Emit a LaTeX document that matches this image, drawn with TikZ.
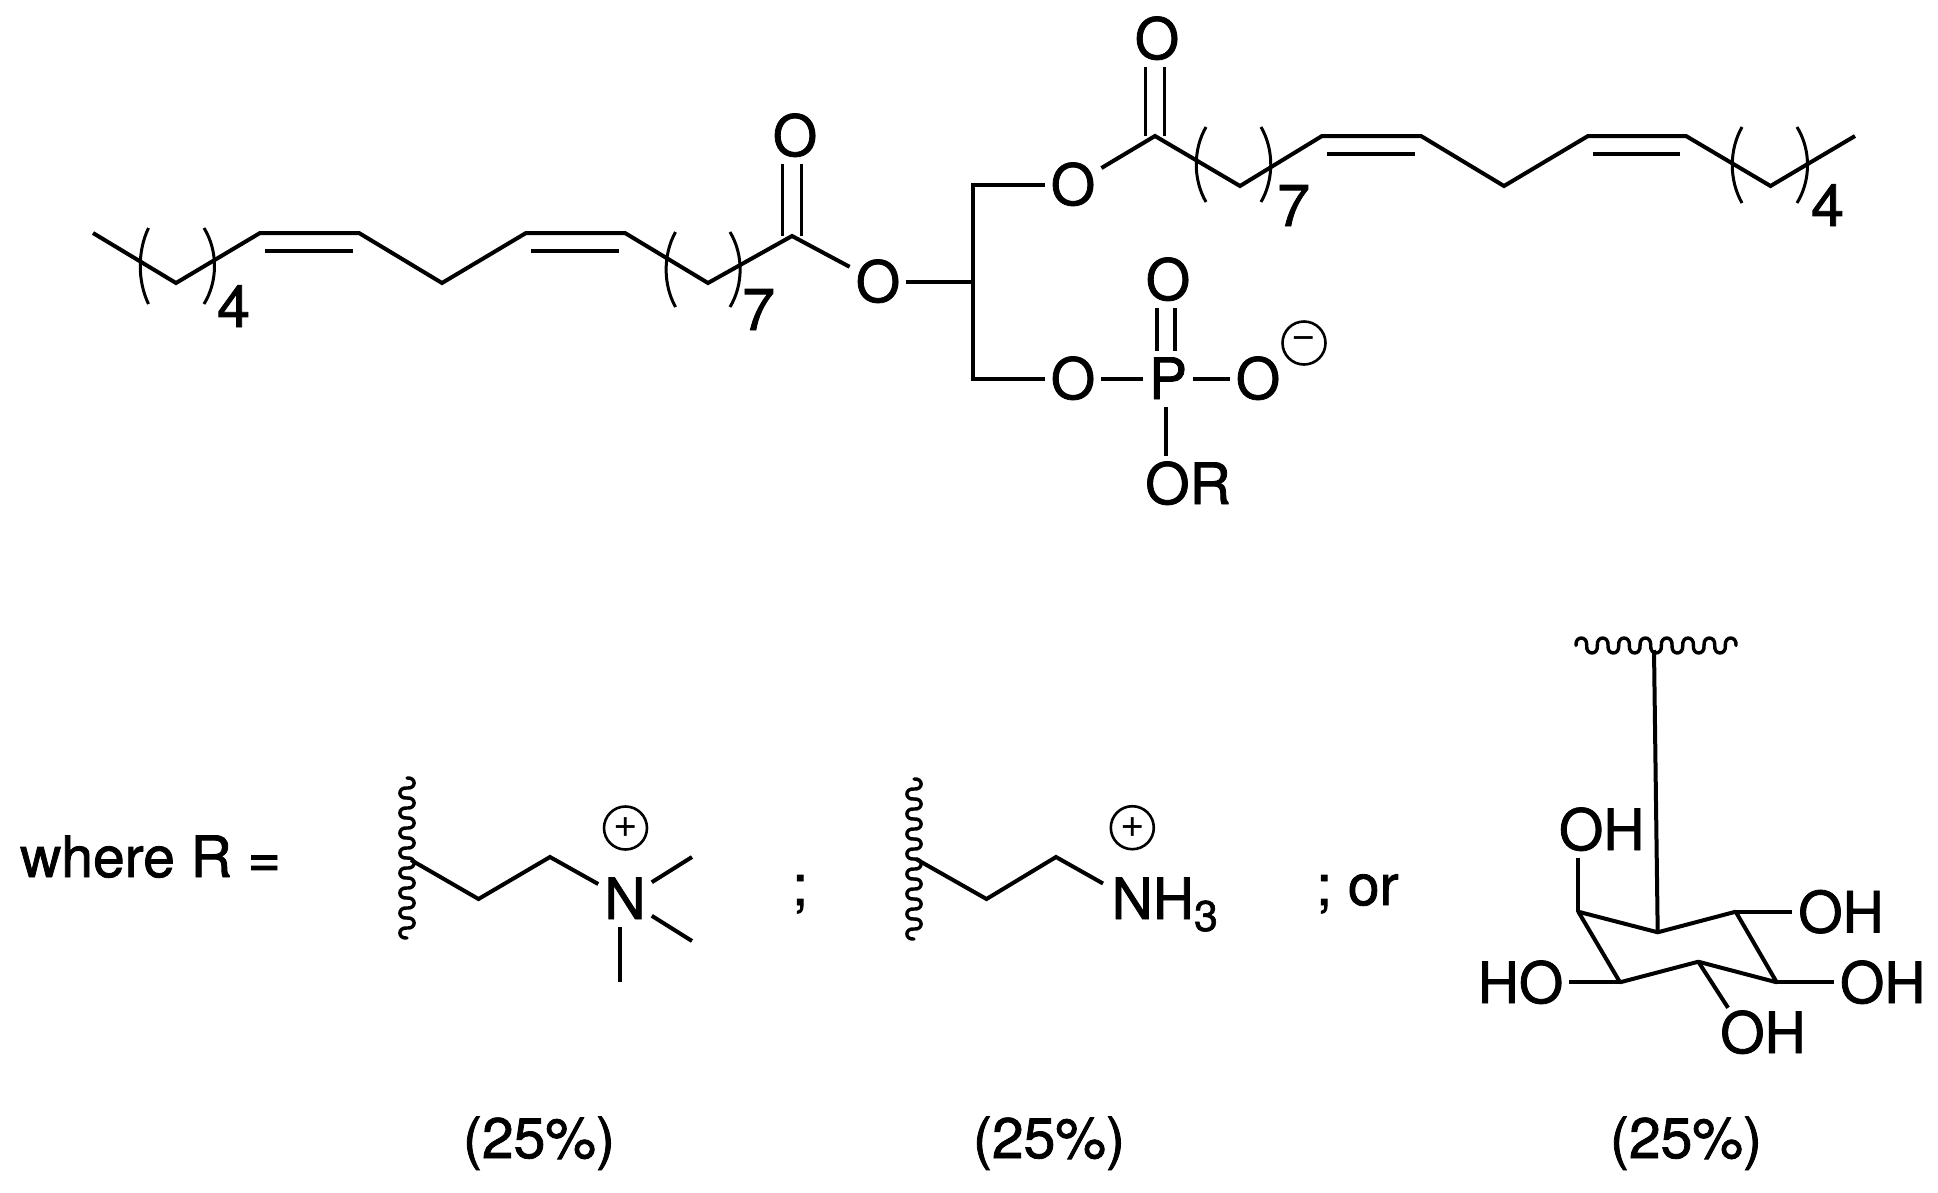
\documentclass[tikz,border=0pt]{standalone}
\usepackage{fontspec}
\setmainfont{TeX Gyre Heros}
\newfontfamily\chemf{TeX Gyre Heros}[FakeBold=1.4]
\newcommand\chembrk[4]{\draw[brk] (#1,#2) .. controls ({#1+#4},{#2+0.3*(#3-#2)}) and ({#1+#4},{#2+0.7*(#3-#2)}) .. (#1,#3);}
% vertical wavy line: x, top y
\newcommand\vwave[2]{\foreach \i in {0,2,...,14}{\draw[wavy] ({#1},{#2+10*\i}) .. controls ({#1+9.5},{#2+10*\i-1}) and ({#1+9.5},{#2+10*\i+11}) .. ({#1},{#2+10*\i+10}) .. controls ({#1-9.5},{#2+10*\i+9}) and ({#1-9.5},{#2+10*\i+21}) .. ({#1},{#2+10*\i+20});}}
\tikzset{
  bond/.style={line width=4pt,line join=miter,line cap=butt},
  brk/.style={line width=3pt},
  dbl/.style={line width=3.2pt},
  wavy/.style={line width=3.4pt,line join=round,line cap=round},
  lab/.style={font=\chemf\fontsize{57}{60}\selectfont,inner xsep=6pt,inner ysep=8pt,text height=40pt,text depth=0pt},
  txt/.style={font=\chemf\fontsize{57}{60}\selectfont,inner sep=0pt,anchor=base west},
  digit/.style={font=\chemf\fontsize{59}{60}\selectfont,inner sep=0pt,anchor=base west},
  charge/.style={circle,draw,line width=2.6pt,minimum size=43pt,inner sep=0pt,font=\fontsize{42}{42}\selectfont}
}
\begin{document}
\begin{tikzpicture}[x=1pt,y=-1pt]
\useasboundingbox[fill=white] (0,0) rectangle (1938,1192);
% left chain
\coordinate (a0) at (93,233);
\coordinate (a1) at (176,283);
\coordinate (a2) at (260,233);
\coordinate (a3) at (359,233);
\coordinate (a4) at (442,283);
\coordinate (a5) at (526,233);
\coordinate (a6) at (625,233);
\coordinate (a7) at (708,283);
\coordinate (Ca) at (792,236);
\node[lab] (Oa) at (795,136) {O};
\node[lab] (O1) at (878,282) {O};
\draw[bond] (a0)--(a1)--(a2)--(a3)--(a4)--(a5)--(a6)--(a7)--(Ca)--(O1);
\draw[bond] ([shift={(5,18)}]a2)--([shift={(-6,18)}]a3);
\draw[bond] ([shift={(5,18)}]a5)--([shift={(-6,18)}]a6);
\draw[dbl] ([xshift=-9.5pt]Ca)--([xshift=-9.5pt]Ca |- Oa.south);
\draw[dbl] ([xshift=9.5pt]Ca)--([xshift=9.5pt]Ca |- Oa.south);
\chembrk{148.5}{228}{304}{-11}
\chembrk{204}{228}{304}{14}
\chembrk{675.5}{232}{307}{-12.5}
\chembrk{730}{232}{307}{13.5}
\node[digit] (n4a) at (217,327) {4};
\node[digit] (n7a) at (742,330) {7};
% backbone
\coordinate (t1) at (973,185);
\coordinate (t2) at (973,282);
\coordinate (t3) at (973,379);
\node[lab] (O2) at (1073,185) {O};
\node[lab] (O3) at (1073,379) {O};
\node[lab] (P) at (1168,379) {P};
\node[lab] (O4) at (1258,379) {O};
\node[lab] (O5) at (1168,280) {O};
\node[lab] (OR) at (1188,484) {OR};
\node[charge] (minus) at (1304,343) {−};
\draw[bond] (O2)--(t1)--(t3)--(O3);
\draw[bond] (O1)--(t2);
\draw[bond] (O3)--(P);
\draw[bond] (P)--(O4);
\draw[dbl] ([xshift=-11pt]P.north)--([xshift=-11pt]P.north |- O5.south);
\draw[dbl] ([xshift=7pt]P.north)--([xshift=7pt]P.north |- O5.south);
\draw[dbl] ([xshift=-2pt]P.south)--([xshift=-2pt]P.south |- OR.north);
% right chain
\coordinate (Cb) at (1155,136);
\coordinate (b1) at (1240,186);
\coordinate (b2) at (1322,136);
\coordinate (b3) at (1421,136);
\coordinate (b4) at (1504,186);
\coordinate (b5) at (1588,136);
\coordinate (b6) at (1686,136);
\coordinate (b7) at (1770.5,186);
\coordinate (b8) at (1855,136);
\node[lab] (Ob) at (1157,39) {O};
\draw[bond] (O2)--(Cb)--(b1)--(b2)--(b3)--(b4)--(b5)--(b6)--(b7)--(b8);
\draw[bond] ([shift={(5,18)}]b2)--([shift={(-6,18)}]b3);
\draw[bond] ([shift={(5,18)}]b5)--([shift={(-6,18)}]b6);
\draw[dbl] ([xshift=-9.5pt]Cb)--([xshift=-9.5pt]Cb |- Ob.south);
\draw[dbl] ([xshift=9.5pt]Cb)--([xshift=9.5pt]Cb |- Ob.south);
\chembrk{1206}{127}{202}{-13}
\chembrk{1261}{127}{202}{13}
\chembrk{1742}{127}{203}{-13}
\chembrk{1797}{127}{203}{14}
\node[digit] (n7b) at (1277,226) {7};
\node[digit] (n4b) at (1811,226) {4};
% where R
\node[txt] (where) at (20,877) {where R =};
\node[txt] (semi) at (792,905) {;};
\node[txt] (semior) at (1316,905) {; or};
% choline
\coordinate (w1) at (411,860);
\coordinate (c1) at (478.5,899);
\coordinate (c2) at (550,857);
\node[lab] (N) at (625,899) {N};
\coordinate (m1) at (692,857);
\coordinate (m2) at (692,941);
\coordinate (m3) at (620,982);
\node[charge] (pl1) at (625.5,828) {+};
\vwave{407}{778}
\draw[bond] (w1)--(c1)--(c2)--(N);
\draw[bond] (N)--(m1);
\draw[bond] (N)--(m2);
\draw[bond] (m3 |- N.south)--(m3);
% ethanolamine
\coordinate (w2) at (916,859);
\coordinate (e1) at (986.5,899);
\coordinate (e2) at (1056,857);
\coordinate (nhb) at (1103,883.5);
\node[txt] (NH) at (1111.5,919) {NH\raisebox{-12pt}{\fontsize{43}{43}\selectfont 3}};
\node[charge] (pl2) at (1132.3,827.7) {+};
\vwave{914}{779}
\draw[bond] (w2)--(e1)--(e2)--(nhb);
% inositol
\coordinate (r1) at (1578.3,911.7);
\coordinate (r2) at (1657.7,932.3);
\coordinate (r3) at (1735.7,911.7);
\coordinate (r4) at (1776.7,982.3);
\coordinate (r5) at (1698.3,961.7);
\coordinate (r6) at (1620,982.3);
\coordinate (w3) at (1654,650);
\node[lab] (OHt) at (1601.7,830) {OH};
\node[lab] (OHr) at (1841,912.5) {OH};
\node[lab] (OHf) at (1882.7,983) {OH};
\node[lab] (OHb) at (1763,1033) {OH};
\node[lab] (HOl) at (1520.5,983) {HO};
\foreach \i in {0,2,...,12}{\draw[wavy] ({1576+10.67*\i},645.5) .. controls ({1576+10.67*\i-1},635.5) and ({1576+10.67*\i+11.67},635.5) .. ({1576+10.67*\i+10.67},645.5) .. controls ({1576+10.67*\i+9.67},655.5) and ({1576+10.67*\i+22.33},655.5) .. ({1576+10.67*\i+21.34},645.5);}
\draw[wavy] (1725.3,645.5) .. controls (1724.3,635.5) and (1737,635.5) .. (1736,645.5);
\draw[bond] (w3)--(r2);
\draw[bond,line join=round] (r1)--(r2)--(r3)--(r4)--(r5)--(r6)--cycle;
\draw[bond] (r1)--(r1 |- OHt.south);
\draw[bond] (r3)--(r3 -| OHr.west);
\draw[bond] (r4)--(r4 -| OHf.west);
\draw[bond] (r6)--(r6 -| HOl.east);
\draw[bond] (r5)--([shift={(14,3)}]OHb.north west);
% percentages
\node[txt,anchor=base] (p1) at (539,1158) {(25\%)};
\node[txt,anchor=base] (p2) at (1049,1158) {(25\%)};
\node[txt,anchor=base] (p3) at (1686,1158) {(25\%)};
\end{tikzpicture}
\end{document}
